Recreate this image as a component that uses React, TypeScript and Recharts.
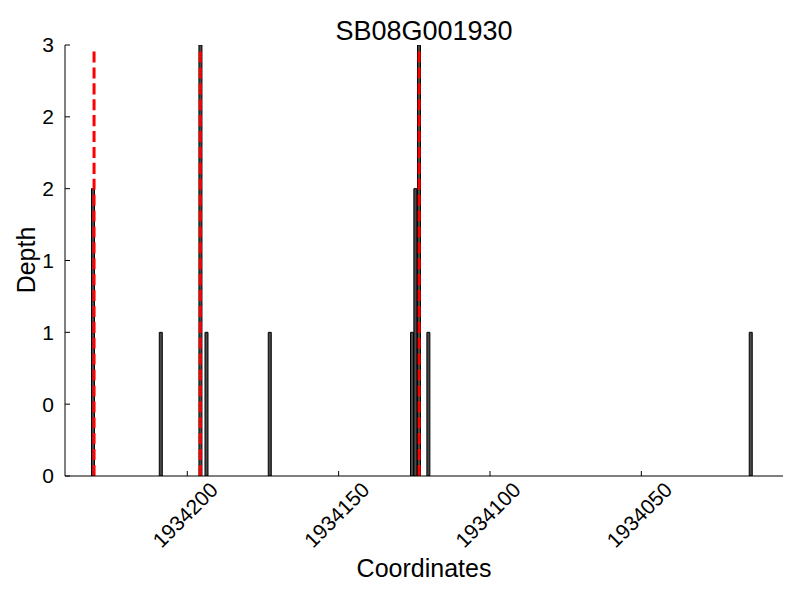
import { ComposedChart, Bar, XAxis, YAxis, ReferenceLine } from "recharts"

// read positions are bar centres on the (reversed) coordinate axis
const positions = [1934231.1, 1934208.7, 1934195.6, 1934193.6, 1934172.7, 1934125.7, 1934124.6, 1934123.4, 1934120.3, 1934013.8]
const depths = [2, 1, 3, 1, 1, 1, 2, 3, 1, 1]
const markerPositions = [1934230.8, 1934195.7, 1934123.4]
const markerTop = 2.96
const xTicks = [1934200, 1934150, 1934100, 1934050]
const yTicks = [0, 0.5, 1, 1.5, 2, 2.5, 3]
const xDomain = [1934003.2, 1934240.4]

const data = positions.map((pos, i) => ({ pos, depth: depths[i] }))

const FONT = "'Liberation Sans', Arial, sans-serif"

function XTick(props: any) {
  const { x, y, payload } = props
  const cx = x - 2
  const cy = y + 44
  return (
    <text
      x={cx}
      y={cy}
      dy="0.35em"
      textAnchor="middle"
      fontSize={21}
      fill="#000"
      transform={`rotate(-45, ${cx}, ${cy})`}
    >
      {payload.value}
    </text>
  )
}

export default function App() {
  return (
    <div style={{ position: "absolute", left: 0, top: 0, width: 800, height: 600, background: "#fff", fontFamily: FONT }}>
      <ComposedChart width={800} height={600} data={data} margin={{ top: 45, right: 17, bottom: 0, left: 5 }}>
        <XAxis
          dataKey="pos"
          type="number"
          domain={xDomain}
          allowDataOverflow
          reversed
          ticks={xTicks}
          interval={0}
          tick={<XTick />}
          tickSize={-5}
          tickMargin={0}
          height={124}
          axisLine={{ stroke: "#000" }}
          tickLine={{ stroke: "#000" }}
        />
        <YAxis
          type="number"
          domain={[0, 3]}
          allowDataOverflow
          ticks={yTicks}
          interval={0}
          tickFormatter={(v: number) => String(Math.floor(v))}
          width={60}
          tickSize={-5}
          tickMargin={16}
          axisLine={{ stroke: "#000" }}
          tickLine={{ stroke: "#000" }}
          tick={{ fill: "#000", fontSize: 21 }}
        />
        <Bar dataKey="depth" barSize={4} fill="#4a4a4a" stroke="#000" strokeWidth={1} isAnimationActive={false} />
        {markerPositions.map((m) => (
          <ReferenceLine
            key={m}
            segment={[{ x: m, y: 0 }, { x: m, y: markerTop }]}
            stroke="#ff0000"
            strokeWidth={3}
            strokeDasharray="11.1 4.8"
            ifOverflow="visible"
          />
        ))}
      </ComposedChart>
      <svg width={800} height={600} style={{ position: "absolute", left: 0, top: 0, pointerEvents: "none" }}>
        <text x={424} y={40} textAnchor="middle" fontSize={27} fill="#000">SB08G001930</text>
        <text x={424} y={577} textAnchor="middle" fontSize={25} fill="#000">Coordinates</text>
        <text x={35} y={260} textAnchor="middle" fontSize={25} fill="#000" transform="rotate(-90, 35, 260)">Depth</text>
      </svg>
    </div>
  )
}
